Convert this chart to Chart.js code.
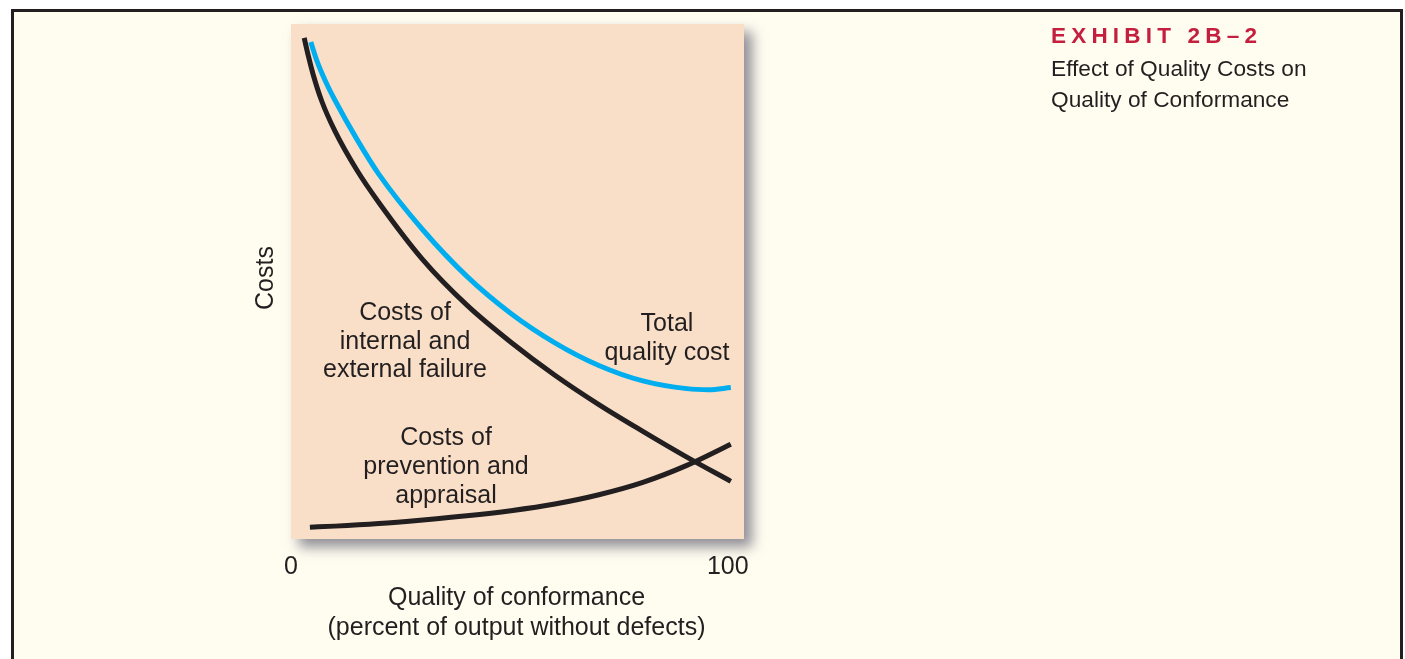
<!DOCTYPE html>
<html><head><meta charset="utf-8">
<script src="https://cdn.jsdelivr.net/npm/chart.js@4.4.1/dist/chart.umd.min.js"></script>
<style>html,body{margin:0;padding:0;background:#fff;overflow:hidden}canvas{display:block}</style>
</head><body>
<canvas id="c" width="1405" height="659"></canvas>
<script>
// ---- data ----
const xTickValues = [0, 100];
const xTickLabels = ['0', '100'];
const failureX = [3, 4, 5, 7, 10, 15, 20, 30, 40, 50, 60, 70, 80, 90, 100];
const failureY = [97.3, 93.6, 90.3, 85, 79.2, 71.6, 65.3, 54.2, 45.4, 38.2, 31.8, 26.1, 20.9, 15.9, 11.2];
const totalX = [4.5, 6, 8, 10, 15, 20, 30, 40, 50, 60, 70, 80, 90, 95, 100];
const totalY = [96.5, 92.6, 88.6, 85.2, 77.6, 70.8, 60, 51, 43.8, 38.1, 33.7, 30.7, 29.2, 29.0, 29.4];
const preventionX = [4.3, 10, 20, 30, 40, 50, 60, 70, 80, 90, 100];
const preventionY = [2.3, 2.5, 3.0, 3.7, 4.5, 5.5, 6.8, 8.6, 11.0, 14.3, 18.4];
const seriesNames = ['Costs of internal and external failure', 'Total quality cost', 'Costs of prevention and appraisal'];
const xTitle = ['Quality of conformance', '(percent of output without defects)'];
const yTitle = 'Costs';
const exhibitTitle = 'EXHIBIT 2B–2';
const exhibitSubtitle = ['Effect of Quality Costs on', 'Quality of Conformance'];
const failureLabel = ['Costs of', 'internal and', 'external failure'];
const totalLabel = ['Total', 'quality cost'];
const preventionLabel = ['Costs of', 'prevention and', 'appraisal'];

const toPts = (xs, ys) => xs.map((x, i) => ({x: x, y: ys[i]}));
const INK = '#231f20';
const FONT = '"Liberation Sans", Arial, Helvetica, sans-serif';

const framePlugin = {
  id: 'frame',
  beforeDraw(chart) {
    const ctx = chart.ctx, a = chart.chartArea;
    ctx.save();
    ctx.fillStyle = '#ffffff';
    ctx.fillRect(0, 0, chart.width, chart.height);
    ctx.fillStyle = '#fffcf0';
    ctx.fillRect(11, 9, 1392, 660);
    ctx.strokeStyle = INK;
    ctx.lineWidth = 3;
    ctx.beginPath();
    ctx.moveTo(12.5, 670); ctx.lineTo(12.5, 10.5); ctx.lineTo(1401.5, 10.5); ctx.lineTo(1401.5, 670);
    ctx.stroke();
    // pink plot panel with shadow
    ctx.shadowColor = 'rgba(70,70,90,0.6)';
    ctx.shadowBlur = 12;
    ctx.shadowOffsetX = 8;
    ctx.shadowOffsetY = 8;
    ctx.fillStyle = '#f9dfc8';
    ctx.fillRect(a.left, a.top, a.right - a.left, a.bottom - a.top);
    ctx.restore();
  }
};

function lines(ctx, arr, x, y0, step, align) {
  ctx.textAlign = align;
  arr.forEach((t, i) => ctx.fillText(t, x, y0 + i * step));
}

const textPlugin = {
  id: 'texts',
  afterDraw(chart) {
    const ctx = chart.ctx, xs = chart.scales.x, a = chart.chartArea;
    ctx.save();
    ctx.fillStyle = INK;
    ctx.textBaseline = 'alphabetic';
    ctx.font = '25px ' + FONT;
    // x ticks
    ctx.textAlign = 'center';
    xTickValues.forEach((v, i) => ctx.fillText(xTickLabels[i], xs.getPixelForValue(v) - (v > 0 ? 3 : 0), 574));
    // x title
    lines(ctx, xTitle, (a.left + a.right) / 2 - 1, 605, 30, 'center');
    // y title
    ctx.save();
    ctx.translate(273, 278);
    ctx.rotate(-Math.PI / 2);
    ctx.textAlign = 'center';
    ctx.fillText(yTitle, 0, 0);
    ctx.restore();
    // curve labels
    lines(ctx, failureLabel, 405, 320, 28.7, 'center');
    lines(ctx, totalLabel, 667, 331, 29, 'center');
    lines(ctx, preventionLabel, 446, 445, 29, 'center');
    // exhibit heading
    ctx.textAlign = 'left';
    ctx.fillStyle = '#c41f3e';
    ctx.font = 'bold 22.5px ' + FONT;
    try { ctx.letterSpacing = '5.2px'; } catch (e) {}
    ctx.fillText(exhibitTitle, 1051, 43);
    try { ctx.letterSpacing = '0px'; } catch (e) {}
    ctx.fillStyle = INK;
    ctx.font = '22.7px ' + FONT;
    lines(ctx, exhibitSubtitle, 1051, 76, 30.5, 'left');
    ctx.restore();
  }
};

new Chart(document.getElementById('c'), {
  type: 'line',
  data: {
    datasets: [
      {label: seriesNames[0], data: toPts(failureX, failureY), borderColor: INK, borderWidth: 5},
      {label: seriesNames[1], data: toPts(totalX, totalY), borderColor: '#00aeef', borderWidth: 5},
      {label: seriesNames[2], data: toPts(preventionX, preventionY), borderColor: INK, borderWidth: 5}
    ]
  },
  options: {
    responsive: false,
    animation: false,
    devicePixelRatio: 1,
    elements: {
      point: {radius: 0, hoverRadius: 0},
      line: {cubicInterpolationMode: 'monotone', fill: false, borderCapStyle: 'butt'}
    },
    layout: {padding: {left: 291, right: 661, top: 24, bottom: 120}},
    plugins: {legend: {display: false}, tooltip: {enabled: false}, title: {display: false}},
    events: [],
    scales: {
      x: {type: 'linear', min: 0, max: 103, display: false},
      y: {type: 'linear', min: 0, max: 100, display: false}
    }
  },
  plugins: [framePlugin, textPlugin]
});
</script>
</body></html>
